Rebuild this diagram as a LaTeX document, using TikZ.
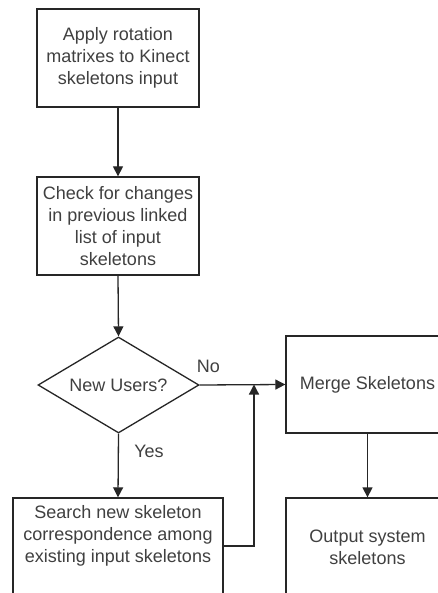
\documentclass[tikz,border=0pt]{standalone}
\usepackage{fontspec}
\setmainfont{Liberation Sans}
\usetikzlibrary{shapes.geometric,arrows.meta}
\begin{document}
\begin{tikzpicture}[x=1pt,y=-1pt,
  box/.style={draw=black!85,line width=1.3pt,rectangle,inner sep=0pt,
    font=\fontsize{18}{22}\selectfont,text=black!75,align=center},
  dia/.style={draw=black!85,line width=1.3pt,diamond,inner sep=0pt,
    font=\fontsize{18}{22}\selectfont,text=black!75},
  txt/.style={inner sep=0pt,font=\fontsize{18}{22}\selectfont,text=black!75,align=center},
  arr/.style={draw=black!85,line width=1.3pt,-{Triangle[length=10pt,width=10pt]}}]
\useasboundingbox (0,0) rectangle (438,593);
\fill[white] (0,0) rectangle (438,593);
\clip (0,0) rectangle (438,593);
\node[box,minimum width=162,minimum height=98] (apply) at (118,58)
  {Apply rotation\\matrixes to Kinect\\skeletons input};
\node[box,minimum width=162,minimum height=98] (check) at (118,226)
  {Check for changes\\in previous linked\\list of input\\skeletons};
\node[dia,minimum width=161,minimum height=96,aspect=1.68] (newu) at (118.5,385)
  {New Users?};
\node[box,minimum width=163,minimum height=97] (merge) at (367.5,384.5)
  {Merge Skeletons};
\node[box,minimum width=163,minimum height=98] (output) at (367.5,547)
  {Output system\\skeletons};
\node[box,minimum width=210,minimum height=110] (search) at (118,553) {};
\node[txt] (searcht) at (118,536)
  {Search new skeleton\\correspondence among\\existing input skeletons};
\node[txt] (no) at (208.5,366) {No};
\node[txt] (yes) at (149,451) {Yes};
\coordinate (j) at (254,384.5);
\draw[arr] (apply.south) -- (check.north);
\draw[arr] (check.south) -- (newu.north);
\draw[arr] (newu.east) -- (merge.west);
\draw[arr] (newu.south) -- (search.north);
\draw[arr] ([yshift=7pt]search.east) -| (j);
\draw[arr] (merge.south) -- (output.north);
\end{tikzpicture}
\end{document}
